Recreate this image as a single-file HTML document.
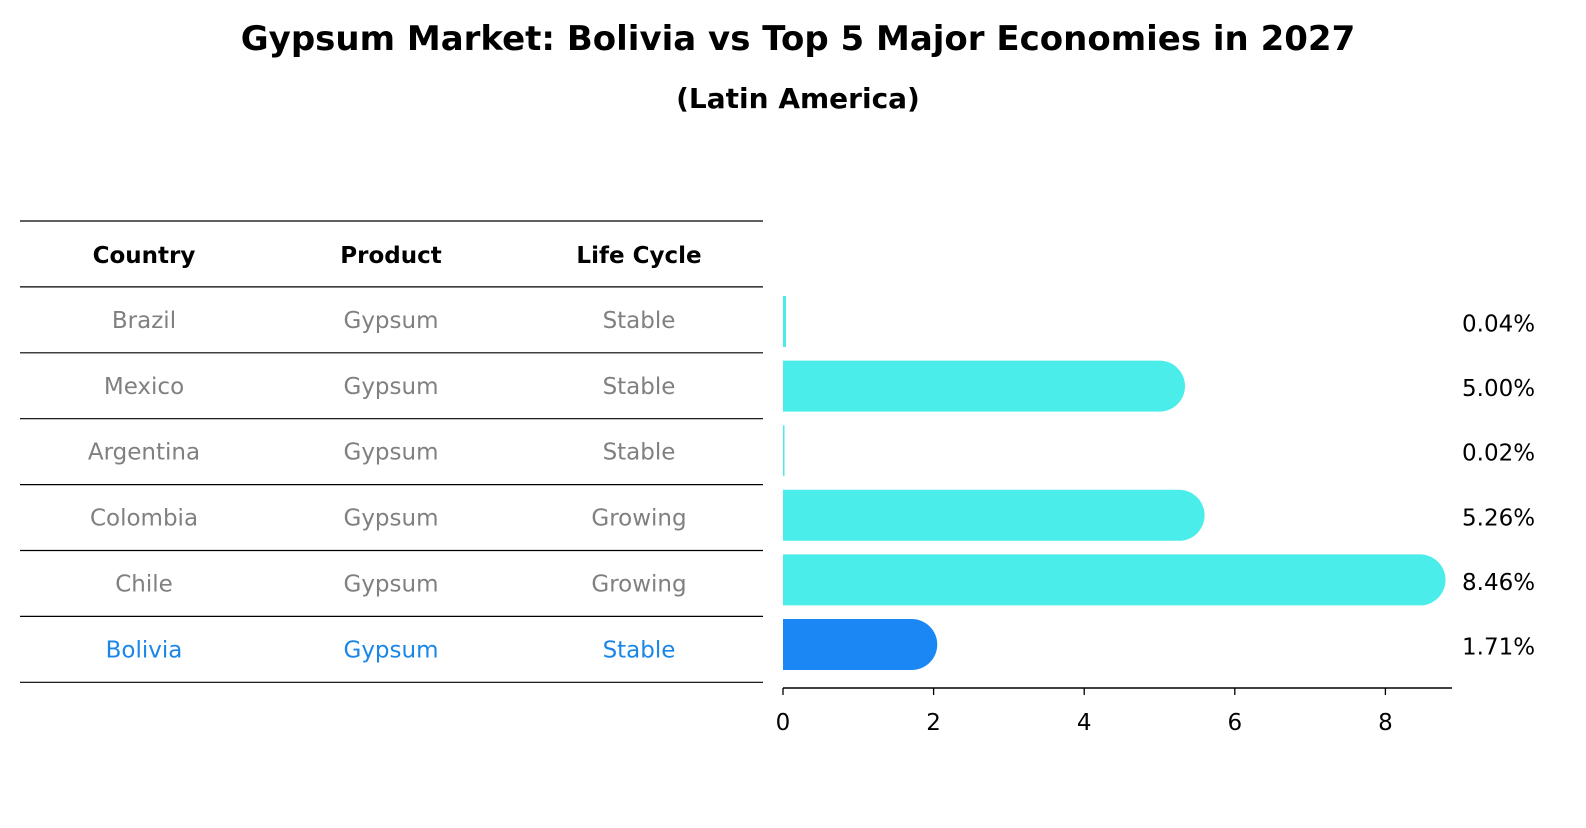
<!DOCTYPE html>
<html><head><meta charset="utf-8"><style>
body{margin:0;background:#fff;}
svg text{font-family:"DejaVu Sans","Liberation Sans",sans-serif;}
</style></head><body>
<svg width="1586" height="823" xmlns="http://www.w3.org/2000/svg" id="chart">
<rect width="1586" height="823" fill="#fff"/>
<text x="798" y="50" text-anchor="middle" font-size="34" font-weight="bold">Gypsum Market: Bolivia vs Top 5 Major Economies in 2027</text>
<text x="798" y="108" text-anchor="middle" font-size="28" font-weight="bold">(Latin America)</text>
<g id="table"></g>
<g id="bars"></g>
</svg>
<script>
const countries=["Brazil","Mexico","Argentina","Colombia","Chile","Bolivia"];
const products=["Gypsum","Gypsum","Gypsum","Gypsum","Gypsum","Gypsum"];
const lifeCycles=["Stable","Stable","Stable","Growing","Growing","Stable"];
const values=[0.04,5.00,0.02,5.26,8.46,1.71];
const valueLabels=["0.04%","5.00%","0.02%","5.26%","8.46%","1.71%"];
const xTicks=[0,2,4,6,8];

const NS="http://www.w3.org/2000/svg";
function mk(tag,attrs,parent,txt){const e=document.createElementNS(NS,tag);for(const k in attrs)e.setAttribute(k,attrs[k]);if(txt!==undefined)e.textContent=txt;parent.appendChild(e);return e;}
const table=document.getElementById('table');
const bars=document.getElementById('bars');
const rowH=65.9, tableTop=221;
const colX=[144,391,639];
// header
const heads=["Country","Product","Life Cycle"];
heads.forEach((h,i)=>{const t=mk('text',{x:colX[i],y:tableTop+rowH/2+9,'text-anchor':'middle','font-size':23,'font-weight':'bold',fill:'#000'},table,h);

});
for(let i=0;i<=countries.length+1;i++){const l=mk('line',{x1:20,x2:763,y1:tableTop+i*rowH,y2:tableTop+i*rowH,stroke:'#000','stroke-width':1.2},table);

}
countries.forEach((c,i)=>{const y=tableTop+(i+1)*rowH+rowH/2+8;const col=c==="Bolivia"?"#1a87e8":"#808080";
[c,products[i],lifeCycles[i]].forEach((v,j)=>{const t=mk('text',{x:colX[j],y:y,'text-anchor':'middle','font-size':23,fill:col},table,v);

});});

// bar chart axes
const x0=783, pxPerUnit=75.3, axisY=688, axisEnd=1452;
const sx=v=>x0+v*pxPerUnit;
const barH=51;
const rowCenter=i=>321.5+i*64.6;
const ax=mk('line',{x1:x0,x2:axisEnd,y1:axisY,y2:axisY,stroke:'#000','stroke-width':1.5},bars);


xTicks.forEach(t=>{const tk=mk('line',{x1:sx(t),x2:sx(t),y1:axisY,y2:axisY+7,stroke:'#000','stroke-width':1.3},bars);


const tl=mk('text',{x:sx(t),y:axisY+42,'text-anchor':'middle','font-size':23,fill:'#000'},bars,String(t));

});
values.forEach((v,i)=>{const cy=rowCenter(i);const top=cy-barH/2;const w=sx(v)-x0;const r=barH/2;
const color=countries[i]==="Bolivia"?"#1a87f5":"#4aede9";
let d;
if(w<10){d=`M${x0},${top}h${Math.max(w,1.5)}v${barH}h${-Math.max(w,1.5)}z`;}
else{d=`M${x0},${top}H${x0+w}A${r},${r} 0 0 1 ${x0+w},${top+barH}H${x0}Z`;}
const p=mk('path',{d:d,fill:color},bars);


const lb=mk('text',{x:1462,y:cy+10,'font-size':23,fill:'#000'},bars,valueLabels[i]);

});
</script>
</body></html>
